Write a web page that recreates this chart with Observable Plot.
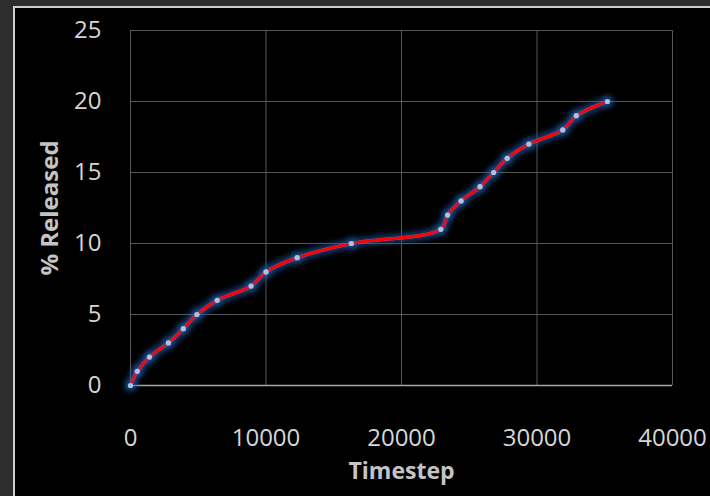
<!DOCTYPE html>
<html>
<head>
<meta charset="utf-8">
<script src="https://cdn.jsdelivr.net/npm/d3@7"></script>
<script src="https://cdn.jsdelivr.net/npm/@observablehq/plot@0.6"></script>
<style>
  html, body { margin: 0; padding: 0; }
  body { width: 710px; height: 496px; background: #2d2d2d; position: relative; overflow: hidden; font-family: "Open Sans", sans-serif; }
  #panel { position: absolute; left: 13px; top: 6px; width: 710px; height: 500px; background: #000; border-left: 2px solid #cfcfcf; border-top: 2px solid #cfcfcf; }
  #chart { position: absolute; left: 0; top: 0; }
</style>
</head>
<body>
<div id="panel"></div>
<div id="chart"></div>
<script>
const timestep = [0, 500, 1400, 2800, 3900, 4900, 6400, 8900, 10000, 12300, 16300, 22900, 23400, 24400, 25800, 26800, 27800, 29400, 31900, 32900, 35200];
const released = [0, 1, 2, 3, 4, 5, 6, 7, 8, 9, 10, 11, 12, 13, 14, 15, 16, 17, 18, 19, 20];
const xTicks = [0, 10000, 20000, 30000, 40000];
const yTicks = [0, 5, 10, 15, 20, 25];
const xTitle = "Timestep";
const yTitle = "% Released";

const data = timestep.map((t, i) => ({t, r: released[i]}));

const svg = Plot.plot({
  width: 710,
  height: 496,
  marginLeft: 130,
  marginRight: 38,
  marginTop: 30,
  marginBottom: 111,
  style: {background: "transparent", fontFamily: "Open Sans, sans-serif"},
  x: {domain: [0, 40000], ticks: xTicks},
  y: {domain: [0, 25], ticks: yTicks},
  marks: [
    Plot.ruleX(xTicks, {stroke: "#575757", strokeWidth: 1}),
    Plot.ruleY(yTicks.filter(d => d > 0), {stroke: "#575757", strokeWidth: 1}),
    Plot.ruleY([0], {stroke: "#a8a8a8", strokeWidth: 1.5}),
    Plot.axisX(xTicks, {tickSize: 0, tickPadding: 43, fontSize: 24, fill: "#d6d6d6", label: null, tickFormat: d => String(d)}),
    Plot.axisY(yTicks, {tickSize: 0, tickPadding: 29, fontSize: 24, fill: "#d6d6d6", label: null}),
    Plot.text([xTitle], {frameAnchor: "bottom", lineAnchor: "middle", textAnchor: "middle", dy: 86, fontSize: 23, fontWeight: "bold", fill: "#c4c4c4"}),
    Plot.text([yTitle], {frameAnchor: "left", textAnchor: "middle", lineAnchor: "middle", dx: -80, rotate: -90, fontSize: 24, fontWeight: "bold", fill: "#c4c4c4"}),
    Plot.line(data, {x: "t", y: "r", curve: "catmull-rom", stroke: "#ff0000", strokeWidth: 3.2}),
    Plot.dot(data, {x: "t", y: "r", r: 2.6, fill: "#aac4e4", stroke: "none"})
  ]
});

// glow filter
const ns = "http://www.w3.org/2000/svg";
const defs = document.createElementNS(ns, "defs");
defs.innerHTML = `
<filter id="glow" filterUnits="userSpaceOnUse" x="0" y="0" width="710" height="496">
  <feMorphology operator="dilate" radius="1.5" in="SourceAlpha" result="d"/>
  <feGaussianBlur in="d" stdDeviation="3" result="b"/>
  <feFlood flood-color="#1f5aa8" flood-opacity="0.75"/>
  <feComposite in2="b" operator="in" result="g"/>
  <feMerge><feMergeNode in="g"/><feMergeNode in="SourceGraphic"/></feMerge>
</filter>`;
svg.insertBefore(defs, svg.firstChild);
svg.querySelectorAll('g[aria-label="line"], g[aria-label="dot"]').forEach(g => g.setAttribute("filter", "url(#glow)"));

document.getElementById("chart").appendChild(svg);
</script>
</body>
</html>
